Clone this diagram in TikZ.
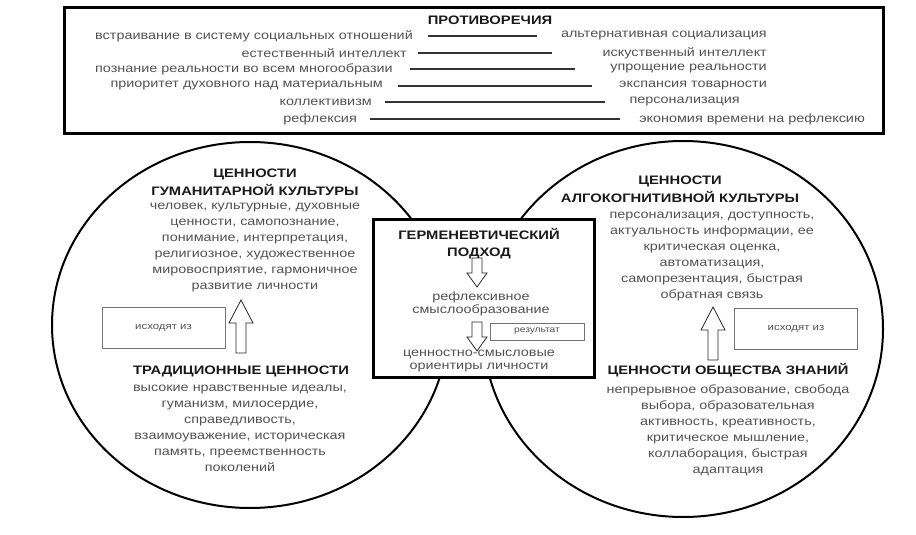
\documentclass[tikz,border=0pt]{standalone}
\usepackage{fontspec}
\setmainfont[FakeStretch=1.2]{Liberation Sans}
\begin{document}
\begin{tikzpicture}[x=1pt,y=-1pt,
  txt/.style={font=\fontsize{12}{16}\selectfont, text=black!68, inner sep=0pt, align=center},
  ctxt/.style={font=\fontsize{12}{13}\selectfont, text=black!68, inner sep=0pt, align=center},
  hd/.style={font=\fontsize{12.3}{18}\selectfont\bfseries, text=black!90, inner sep=0pt, align=center},
  row/.style={font=\fontsize{12}{13}\selectfont, text=black!68, inner sep=0pt},
  bar/.style={line width=2.5pt, draw=black!80},
  smallbox/.style={draw=black!55, line width=1pt, minimum width=123pt, minimum height=41pt, inner sep=0pt, font=\fontsize{9.5}{11}\selectfont, text=black!68},
  resbox/.style={draw=black!55, line width=1pt, minimum width=94pt, minimum height=17pt, inner sep=0pt, font=\fontsize{8.5}{9}\selectfont, text=black!68, fill=white},
  uparr/.pic={\draw[fill=white, line width=0.8pt, draw=black!85] (0,0) -- (12,23) -- (5,23) -- (5,53) -- (-5,53) -- (-5,23) -- (-12,23) -- cycle;},
  downarr/.pic={\draw[fill=white, line width=0.8pt, draw=black!85] (-5,0) -- (5,0) -- (5,15) -- (10,15) -- (0,29) -- (-10,15) -- (-5,15) -- cycle;}
]
\useasboundingbox (0,0) rectangle (916,535);
% top box
\draw[line width=3pt] (64,8) rectangle (883,133);
\node[hd] (title) at (490,20) {ПРОТИВОРЕЧИЯ};
\node[row, anchor=east] (l1) at (413,36) {встраивание в систему социальных отношений};
\node[row, anchor=east] (l2) at (407,53) {естественный интеллект};
\node[row, anchor=east] (l3) at (393,69) {познание реальности во всем многообразии};
\node[row, anchor=east] (l4) at (383,86) {приоритет духовного над материальным};
\node[row, anchor=east] (l5) at (372,102) {коллективизм};
\node[row, anchor=east] (l6) at (357,119) {рефлексия};
\node[row, anchor=east] (r1) at (767,36) {альтернативная социализация};
\node[row, anchor=east] (r2) at (767,53) {искуственный интеллект};
\node[row, anchor=east] (r3) at (767,69) {упрощение реальности};
\node[row, anchor=east] (r4) at (767,86) {экспансия товарности};
\node[row, anchor=east] (r5) at (740,102) {персонализация};
\node[row, anchor=east] (r6) at (865,119) {экономия времени на рефлексию};
\draw[bar] (428,36) -- (537,36);
\draw[bar] (418,53) -- (552,53);
\draw[bar] (410,69) -- (575,69);
\draw[bar] (398,86) -- (592,86);
\draw[bar] (385,102) -- (605,102);
\draw[bar] (370,119) -- (620,119);
% circles
\draw[line width=2pt] (250,325) ellipse [x radius=198, y radius=183];
\draw[line width=2pt] (683,329) ellipse [x radius=200, y radius=188];
% left circle
\node[hd] (lh) at (255,182) {ЦЕННОСТИ\\ГУМАНИТАРНОЙ КУЛЬТУРЫ};
\node[txt] (lb) at (255,247.5) {человек, культурные, духовные\\ценности, самопознание,\\понимание, интерпретация,\\религиозное, художественное\\мировосприятие, гармоничное\\развитие личности};
\node[smallbox] (ish1) at (163.5,327.5) {исходят из};
\pic at (241,300) {uparr};
\node[hd] (th) at (241,371) {ТРАДИЦИОННЫЕ ЦЕННОСТИ};
\node[txt] (tb) at (240,428.5) {высокие нравственные идеалы,\\гуманизм, милосердие,\\справедливость,\\взаимоуважение, историческая\\память, преемственность\\поколений};
% right circle
\node[hd] (rh) at (680,189) {ЦЕННОСТИ\\АЛГОКОГНИТИВНОЙ КУЛЬТУРЫ};
\node[txt] (rb) at (712,256.5) {персонализация, доступность,\\актуальность информации, ее\\критическая оценка,\\автоматизация,\\самопрезентация, быстрая\\обратная связь};
\node[smallbox] (ish2) at (796,329) {исходят из};
\pic at (713,307) {uparr};
\node[hd] (kh) at (728,370) {ЦЕННОСТИ ОБЩЕСТВА ЗНАНИЙ};
\node[txt] (kb) at (728,430) {непрерывное образование, свобода\\выбора, образовательная\\активность, креативность,\\критическое мышление,\\коллаборация, быстрая\\адаптация};
% center box
\node[draw, line width=3pt, fill=white, minimum width=221pt, minimum height=158pt, inner sep=0pt] (cbox) at (483.5,298) {};
\node[hd, font=\fontsize{12.3}{17}\selectfont\bfseries] (gh) at (479,243.5) {ГЕРМЕНЕВТИЧЕСКИЙ\\ПОДХОД};
\pic at (477,258) {downarr};
\node[ctxt] (refl) at (481,303.5) {рефлексивное\\смыслообразование};
\pic at (477,322) {downarr};
\node[resbox] (res) at (537,331.5) {результат};
\node[ctxt] (ori) at (479,361.5) {ценностно-смысловые\\ориентиры личности};
\end{tikzpicture}
\end{document}
